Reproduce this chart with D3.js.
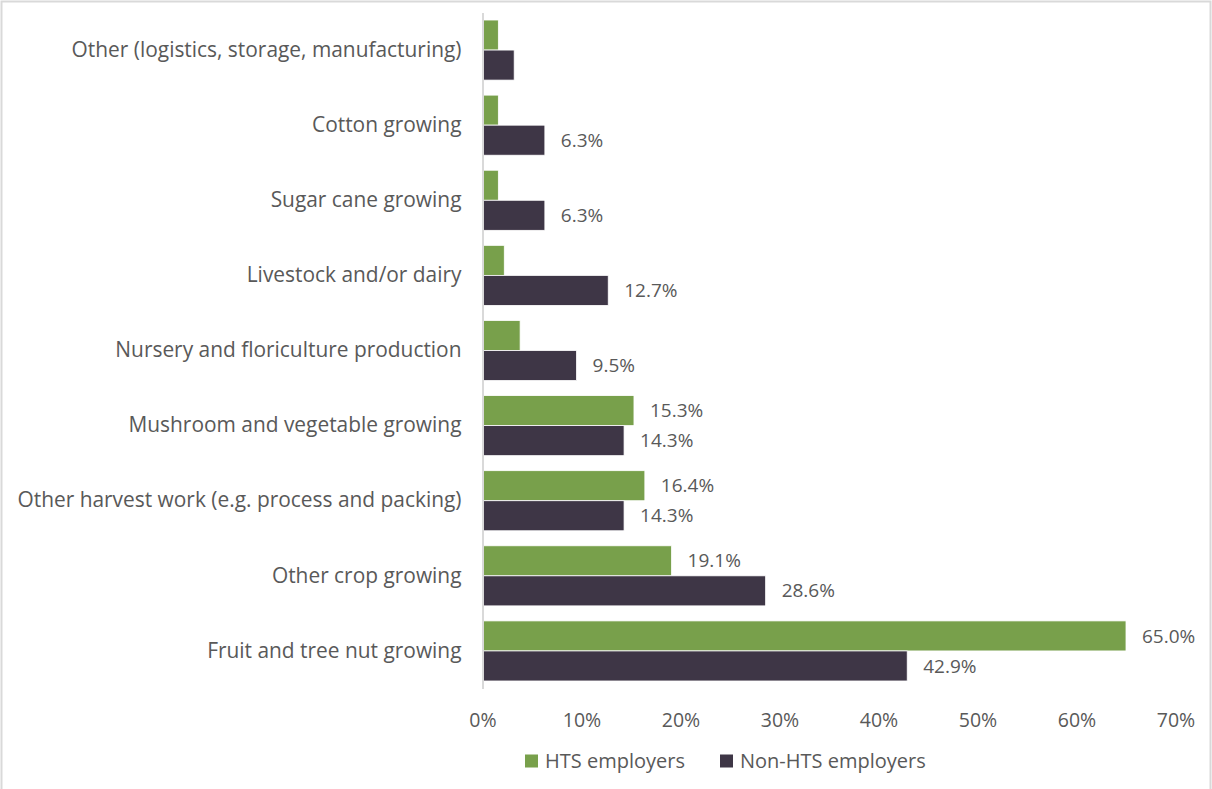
<!DOCTYPE html>
<html>
<head>
<meta charset="utf-8">
<script src="https://cdn.jsdelivr.net/npm/d3@7"></script>
<style>
  html, body { margin: 0; padding: 0; background: #fff; }
  svg { display: block; }
  text { font-family: "Open Sans", "Noto Sans", sans-serif; fill: #595959; }
</style>
</head>
<body>
<svg id="chart" width="1212" height="789"></svg>
<script>
// Industry categories, listed top to bottom
const categories = [
  "Other (logistics, storage, manufacturing)",
  "Cotton growing",
  "Sugar cane growing",
  "Livestock and/or dairy",
  "Nursery and floriculture production",
  "Mushroom and vegetable growing",
  "Other harvest work (e.g. process and packing)",
  "Other crop growing",
  "Fruit and tree nut growing"
];

// Share of employers in each industry (%)
const htsValues    = [1.6, 1.6, 1.6, 2.2, 3.8, 15.3, 16.4, 19.1, 65.0];
const nonHtsValues = [3.2, 6.3, 6.3, 12.7, 9.5, 14.3, 14.3, 28.6, 42.9];

// Which bars carry a value label
const htsLabelled    = [false, false, false, false, false, true, true, true, true];
const nonHtsLabelled = [false, true, true, true, true, true, true, true, true];

const seriesNames  = ["HTS employers", "Non-HTS employers"];
const seriesColors = ["#78A04B", "#3E3646"];
const xTicks = [0, 10, 20, 30, 40, 50, 60, 70];

const svg = d3.select("#chart");
const W = 1212, H = 789;

// Outer chart frame
svg.append("rect")
  .attr("x", 1.5).attr("y", 1.5)
  .attr("width", W - 3).attr("height", H + 10)
  .attr("fill", "#fff").attr("stroke", "#d9d9d9").attr("stroke-width", 2);

const x = d3.scaleLinear().domain([0, 70]).range([482.5, 1175.5]);
const y = d3.scaleBand().domain(categories).range([12.5, 688.5])
  .paddingInner(0.2).paddingOuter(0.1);
const sub = d3.scaleBand().domain(seriesNames).range([0, y.bandwidth()]);

const rows = categories.map((c, i) => ({
  cat: c,
  vals: [
    { s: seriesNames[0], v: htsValues[i], lab: htsLabelled[i] },
    { s: seriesNames[1], v: nonHtsValues[i], lab: nonHtsLabelled[i] }
  ]
}));

const g = svg.append("g");
const groups = g.selectAll("g.row").data(rows).join("g")
  .attr("class", "row")
  .attr("transform", d => `translate(0,${y(d.cat)})`);

groups.selectAll("rect").data(d => d.vals).join("rect")
  .attr("x", x(0))
  .attr("y", d => sub(d.s))
  .attr("width", d => x(d.v) - x(0))
  .attr("height", sub.bandwidth())
  .attr("fill", (d, i) => seriesColors[i])
  .attr("stroke", "#ffffff").attr("stroke-width", 0.8);

groups.selectAll("text.val").data(d => d.vals.filter(v => v.lab)).join("text")
  .attr("class", "val")
  .attr("x", d => x(d.v) + 16)
  .attr("y", d => sub(d.s) + sub.bandwidth() / 2)
  .attr("dy", "0.35em")
  .style("font-size", "19px")
  .text(d => d.v.toFixed(1) + "%");

// Category axis (vertical line + labels)
const yAxis = d3.axisLeft(y).tickSize(0).tickPadding(21);
const ya = svg.append("g").attr("transform", `translate(${x(0)},0)`).call(yAxis);
ya.attr("font-family", null);
ya.select(".domain").attr("stroke", "#d9d9d9").attr("stroke-width", 2);
ya.selectAll("text").style("font-size", "20.9px").attr("fill", "#595959");

// Value axis (labels only)
const xAxis = d3.axisBottom(x).tickValues(xTicks).tickSize(0).tickPadding(0)
  .tickFormat(d => d + "%");
const xa = svg.append("g").attr("transform", `translate(0,720)`).call(xAxis);
xa.attr("font-family", null);
xa.select(".domain").remove();
xa.selectAll("text").attr("dy", "0.35em").style("font-size", "19.5px").attr("fill", "#595959");

// Legend
const legend = svg.append("g").attr("transform", "translate(525,761)");
const legX = [0, 195];
seriesNames.forEach((n, i) => {
  const lg = legend.append("g").attr("transform", `translate(${legX[i]},0)`);
  lg.append("rect").attr("x", 0).attr("y", -6.5).attr("width", 13).attr("height", 13)
    .attr("fill", seriesColors[i]);
  lg.append("text").attr("x", 20).attr("y", 0).attr("dy", "0.35em")
    .style("font-size", "20px").text(n);
});
</script>
</body>
</html>
